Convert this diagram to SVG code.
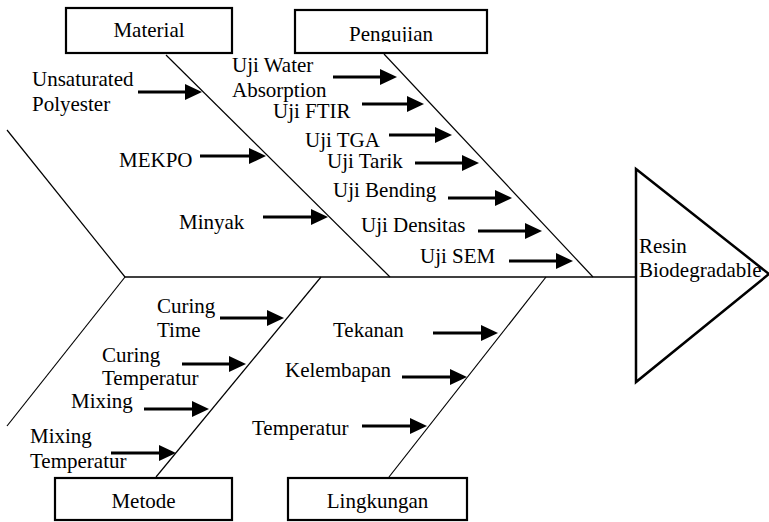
<svg xmlns="http://www.w3.org/2000/svg" width="769" height="522" viewBox="0 0 769 522">
<style>
text{font-family:"Liberation Serif","Times New Roman",serif;font-size:21px;fill:#000}
.box{fill:#fff;stroke:#000;stroke-width:2.2}
.bone{stroke:#000;stroke-width:1.2;fill:none}
.spine{stroke:#000;stroke-width:1.4;fill:none}
.arr{stroke:#000;stroke-width:3;fill:none;marker-end:url(#ah)}
.mid{text-anchor:middle}
</style>
<defs>
<marker id="ah" markerUnits="userSpaceOnUse" markerWidth="18" markerHeight="16" refX="13" refY="8" orient="auto" viewBox="0 0 18 16">
<path d="M0,0 L17,8 L0,16 z" fill="#000"/>
</marker>
<clipPath id="pclip"><rect x="295" y="10" width="192" height="32"/></clipPath>
</defs>

<g id="connectors">
<line class="spine" x1="125" y1="277" x2="636" y2="277"/>
<line class="bone" x1="7" y1="130" x2="125" y2="277"/>
<line class="bone" x1="125" y1="277" x2="7" y2="426"/>
<line class="bone" x1="166" y1="55" x2="390" y2="277"/>
<line class="bone" x1="384" y1="54" x2="593" y2="277"/>
<line class="bone" x1="321" y1="277" x2="156" y2="477"/>
<line class="bone" x1="546" y1="277" x2="389" y2="477"/>

<line class="arr" x1="138" y1="92" x2="198" y2="92"/>
<line class="arr" x1="200" y1="156" x2="262" y2="156"/>
<line class="arr" x1="263" y1="217" x2="324" y2="217"/>

<line class="arr" x1="333" y1="77" x2="393" y2="77"/>
<line class="arr" x1="362" y1="104" x2="420" y2="104"/>
<line class="arr" x1="389" y1="135" x2="448" y2="135"/>
<line class="arr" x1="415" y1="163" x2="475" y2="163"/>
<line class="arr" x1="448" y1="198" x2="508" y2="198"/>
<line class="arr" x1="478" y1="231" x2="538" y2="231"/>
<line class="arr" x1="509" y1="261" x2="569" y2="261"/>

<line class="arr" x1="220" y1="318" x2="280" y2="318"/>
<line class="arr" x1="182" y1="364" x2="242" y2="364"/>
<line class="arr" x1="144" y1="409" x2="205" y2="409"/>
<line class="arr" x1="111" y1="453" x2="172" y2="453"/>

<line class="arr" x1="433" y1="333" x2="494" y2="333"/>
<line class="arr" x1="402" y1="377" x2="463" y2="377"/>
<line class="arr" x1="362" y1="426" x2="423" y2="426"/>
</g>

<g id="material">
<rect class="box" x="66" y="8" width="166" height="45"/>
<text class="mid" x="149" y="37">Material</text>
</g>
<g id="pengujian">
<rect class="box" x="295" y="10" width="192" height="43"/>
<text class="mid" x="391" y="41" clip-path="url(#pclip)">Pengujian</text>
</g>
<g id="metode">
<rect class="box" x="55" y="478" width="177" height="42"/>
<text class="mid" x="143.5" y="508">Metode</text>
</g>
<g id="lingkungan">
<rect class="box" x="288" y="478" width="179" height="42"/>
<text class="mid" x="377.5" y="508">Lingkungan</text>
</g>
<g id="head">
<polygon points="636,169 769,274 636,382" fill="#fff" stroke="#000" stroke-width="2.5"/>
<text x="639" y="253">Resin</text>
<text x="639" y="277">Biodegradable</text>
</g>

<g id="material-causes">
<text x="32" y="86">Unsaturated</text>
<text x="32" y="111">Polyester</text>
<text x="119" y="167">MEKPO</text>
<text x="179" y="229">Minyak</text>
</g>
<g id="pengujian-causes">
<text x="232" y="72">Uji Water</text>
<text x="232" y="97">Absorption</text>
<text x="273" y="118">Uji FTIR</text>
<text x="305" y="147">Uji TGA</text>
<text x="327" y="168">Uji Tarik</text>
<text x="333" y="197">Uji Bending</text>
<text x="361" y="232">Uji Densitas</text>
<text x="420" y="263">Uji SEM</text>
</g>
<g id="metode-causes">
<text x="157" y="313">Curing</text>
<text x="157" y="337">Time</text>
<text x="102" y="362">Curing</text>
<text x="102" y="385">Temperatur</text>
<text x="71" y="408">Mixing</text>
<text x="30" y="443">Mixing</text>
<text x="30" y="468">Temperatur</text>
</g>
<g id="lingkungan-causes">
<text x="333" y="337">Tekanan</text>
<text x="285" y="377">Kelembapan</text>
<text x="252" y="435">Temperatur</text>
</g>
</svg>
